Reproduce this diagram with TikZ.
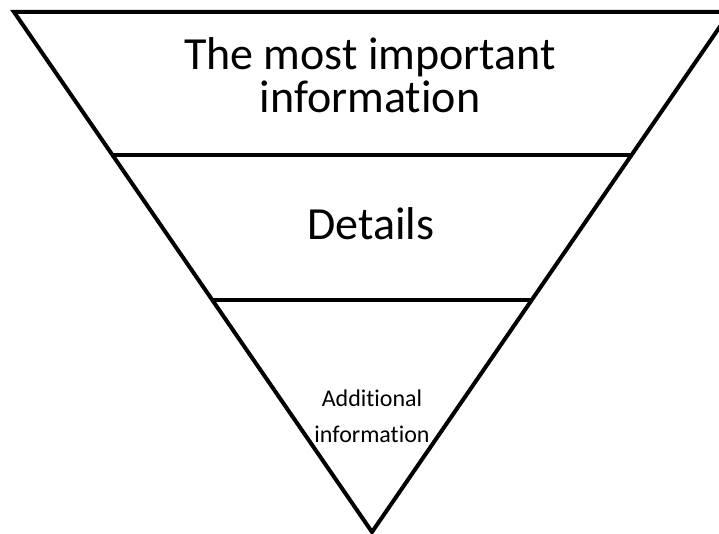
\documentclass[tikz,border=0pt]{standalone}
\usepackage{fontspec}
\setmainfont{Carlito}[Ligatures={NoCommon}]
\begin{document}
\begin{tikzpicture}[x=1pt,y=-1pt,
  edge/.style={line width=4pt, line join=miter},
  label/.style={align=center, inner sep=0pt, text=black}]
\useasboundingbox (0,0) rectangle (719,534);
\coordinate (tl) at (14,12);
\coordinate (tr) at (730,12);
\coordinate (ap) at (372,532);
\coordinate (l1a) at (112.5,155);
\coordinate (l1b) at (631.5,155);
\coordinate (l2a) at (212,300);
\coordinate (l2b) at (532,300);
\draw[edge] (tl) -- (tr) -- (ap) -- cycle;
\draw[edge] (l1a) -- (l1b);
\draw[edge] (l2a) -- (l2b);
\node[label, anchor=base, font=\fontsize{46}{43}\selectfont] (top) at (370,113) {The most important\\information};
\node[label, anchor=base, font=\fontsize{46}{54}\selectfont] (mid) at (371,240) {Details};
\node[label, anchor=base, font=\fontsize{24}{36}\selectfont] (bot) at (372,442) {Additional\\information};
\end{tikzpicture}
\end{document}
